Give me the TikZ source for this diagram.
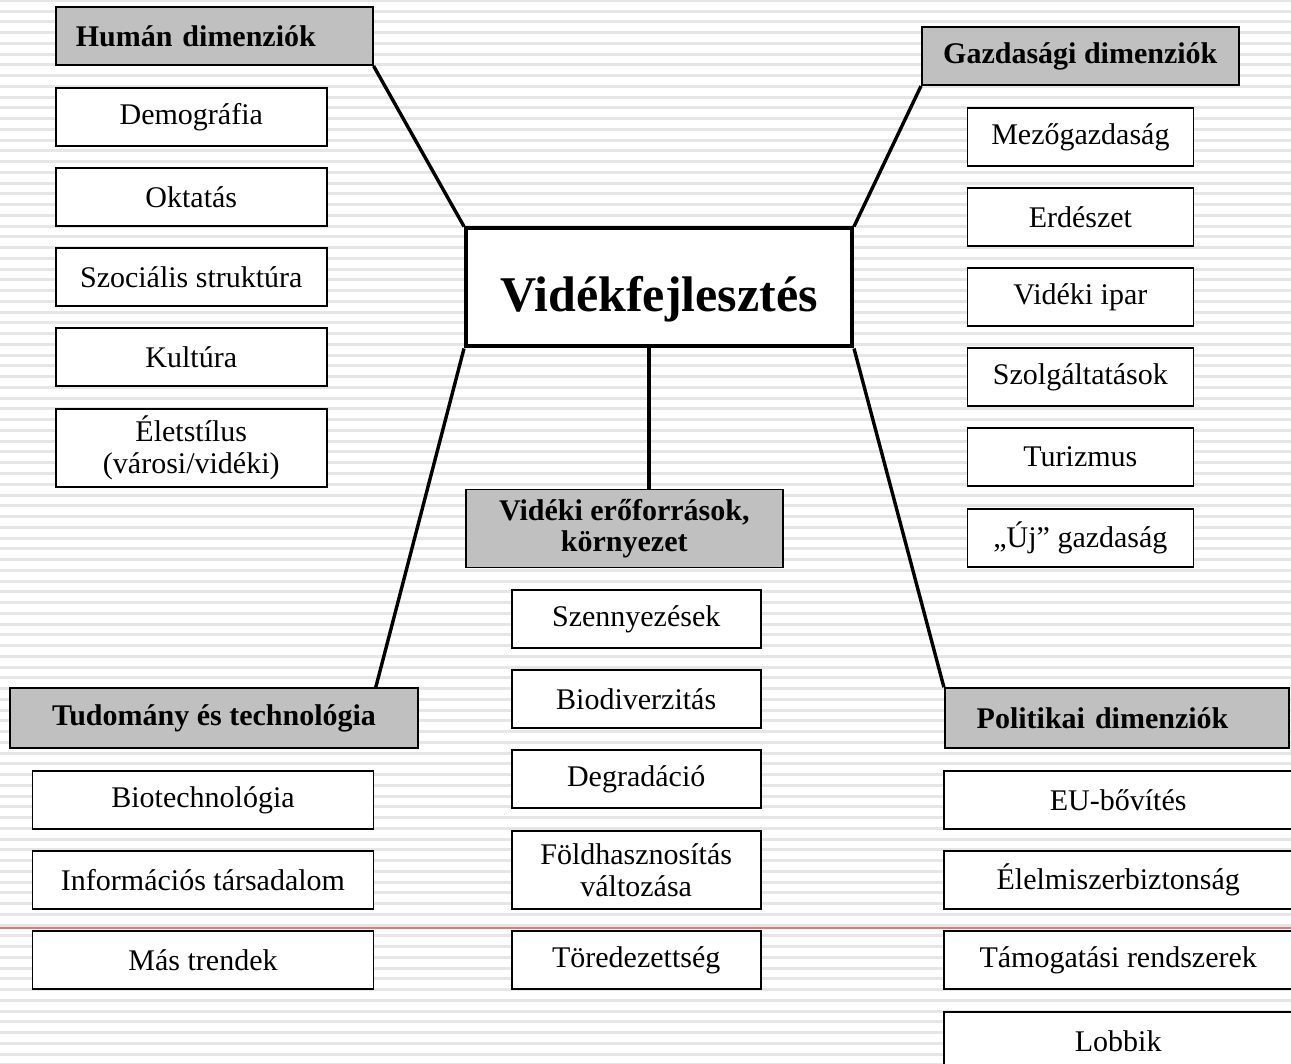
\documentclass[tikz,border=0pt]{standalone}
\usepackage{fontspec}
\setmainfont{Liberation Serif}
\usetikzlibrary{calc}
\definecolor{stripe}{HTML}{E6E6E6}
\definecolor{headfill}{HTML}{C0C0C0}
\definecolor{redrule}{HTML}{E07A7A}

\begin{document}
\begin{tikzpicture}[x=1pt, y=-1pt,
    item/.style={draw, fill=white, line width=1.6pt, inner sep=0pt, align=center,
      minimum height=58, font=\fontsize{30}{32}\selectfont},
    head/.style={item, fill=headfill, font=\fontsize{30}{31}\selectfont\bfseries},
    link/.style={line width=3.4pt}]
      \useasboundingbox (0,0) rectangle (1291,1064);
      \fill[white] (0,0) rectangle (1291,1064);
      \foreach \k in {0,...,99}
        \draw[stripe, line width=3pt] (0,{0.5+10.75*\k}) -- (1291,{0.5+10.75*\k});
      \draw[redrule, line width=2pt] (0,928) -- (1291,928);

      % kozep
      \node[item, line width=4pt, minimum width=386, minimum height=118, text height=48pt, text depth=0pt,
        font=\fontsize{50}{54}\selectfont\bfseries] (videk) at (659,287.5) {Vidékfejlesztés};

      % human dimenziok
      \node[head, minimum height=58, inner xsep=20pt, text width=277pt, align=left] (human) at (214.3,36.2) {Humán dimenziók};
      \node[item, minimum width=271] (demo) at (191.3,117) {Demográfia};
      \node[item, minimum width=271] (okt) at (191.3,197) {Oktatás};
      \node[item, minimum width=271] (szoc) at (191.3,277) {Szociális struktúra};
      \node[item, minimum width=271] (kult) at (191.3,357) {Kultúra};
      \node[item, minimum width=271, minimum height=78] (elet) at (191.3,448) {Életstílus\\(városi/vidéki)};

      % gazdasagi dimenziok
      \node[head, minimum width=317] (gazd) at (1080.3,56.2) {Gazdasági dimenziók};
      \node[item, minimum width=226] (mezo) at (1080.4,137) {Mezőgazdaság};
      \node[item, minimum width=226] (erdo) at (1080.4,217) {Erdészet};
      \node[item, minimum width=226] (ipar) at (1080.4,297) {Vidéki ipar};
      \node[item, minimum width=226] (szolg) at (1080.4,377) {Szolgáltatások};
      \node[item, minimum width=226] (tur) at (1080.4,457) {Turizmus};
      \node[item, minimum width=226] (uj) at (1080.4,538) {„Új” gazdaság};

      % eroforrasok
      \node[head, minimum width=317, minimum height=78] (forras) at (624.3,528.5) {Vidéki erőforrások,\\környezet};
      \node[item, minimum width=249] (szenny) at (636.2,619) {Szennyezések};
      \node[item, minimum width=249] (biodiv) at (636.2,699) {Biodiverzitás};
      \node[item, minimum width=249] (degr) at (636.2,779) {Degradáció};
      \node[item, minimum width=249, minimum height=78] (fold) at (636.2,870) {Földhasznosítás\\változása};
      \node[item, minimum width=249] (tored) at (636.2,960) {Töredezettség};

      % tudomany es technologia
      \node[head, minimum width=408, minimum height=60] (tud) at (214,718) {Tudomány és technológia};
      \node[item, minimum width=341] (biot) at (203,800) {Biotechnológia};
      \node[item, minimum width=341] (info) at (203,880) {Információs társadalom};
      \node[item, minimum width=341] (mas) at (203,960) {Más trendek};

      % politikai dimenziok
      \node[head, minimum height=60, inner xsep=32pt, text width=280pt, align=left] (pol) at (1116.7,718) {Politikai dimenziók};
      \node[item, minimum width=348] (eu) at (1118.2,800) {EU-bővítés};
      \node[item, minimum width=348] (elel) at (1118.2,880) {Élelmiszerbiztonság};
      \node[item, minimum width=348] (tam) at (1118.2,960) {Támogatási rendszerek};
      \node[item, minimum width=348] (lobbi) at (1118.2,1041) {Lobbik};

      % vonalak
      \draw[link] (human.south east) -- (videk.north west);
      \draw[link] (gazd.south west) -- (videk.north east);
      \draw[link] ($(videk.south west)!0.474!(videk.south east)$) coordinate (v) -- (v |- forras.north);
      \draw[link] (videk.south west) -- ($(tud.north east)!0.105!(tud.north west)$);
      \draw[link] (videk.south east) -- (pol.north west);
\end{tikzpicture}
\end{document}
